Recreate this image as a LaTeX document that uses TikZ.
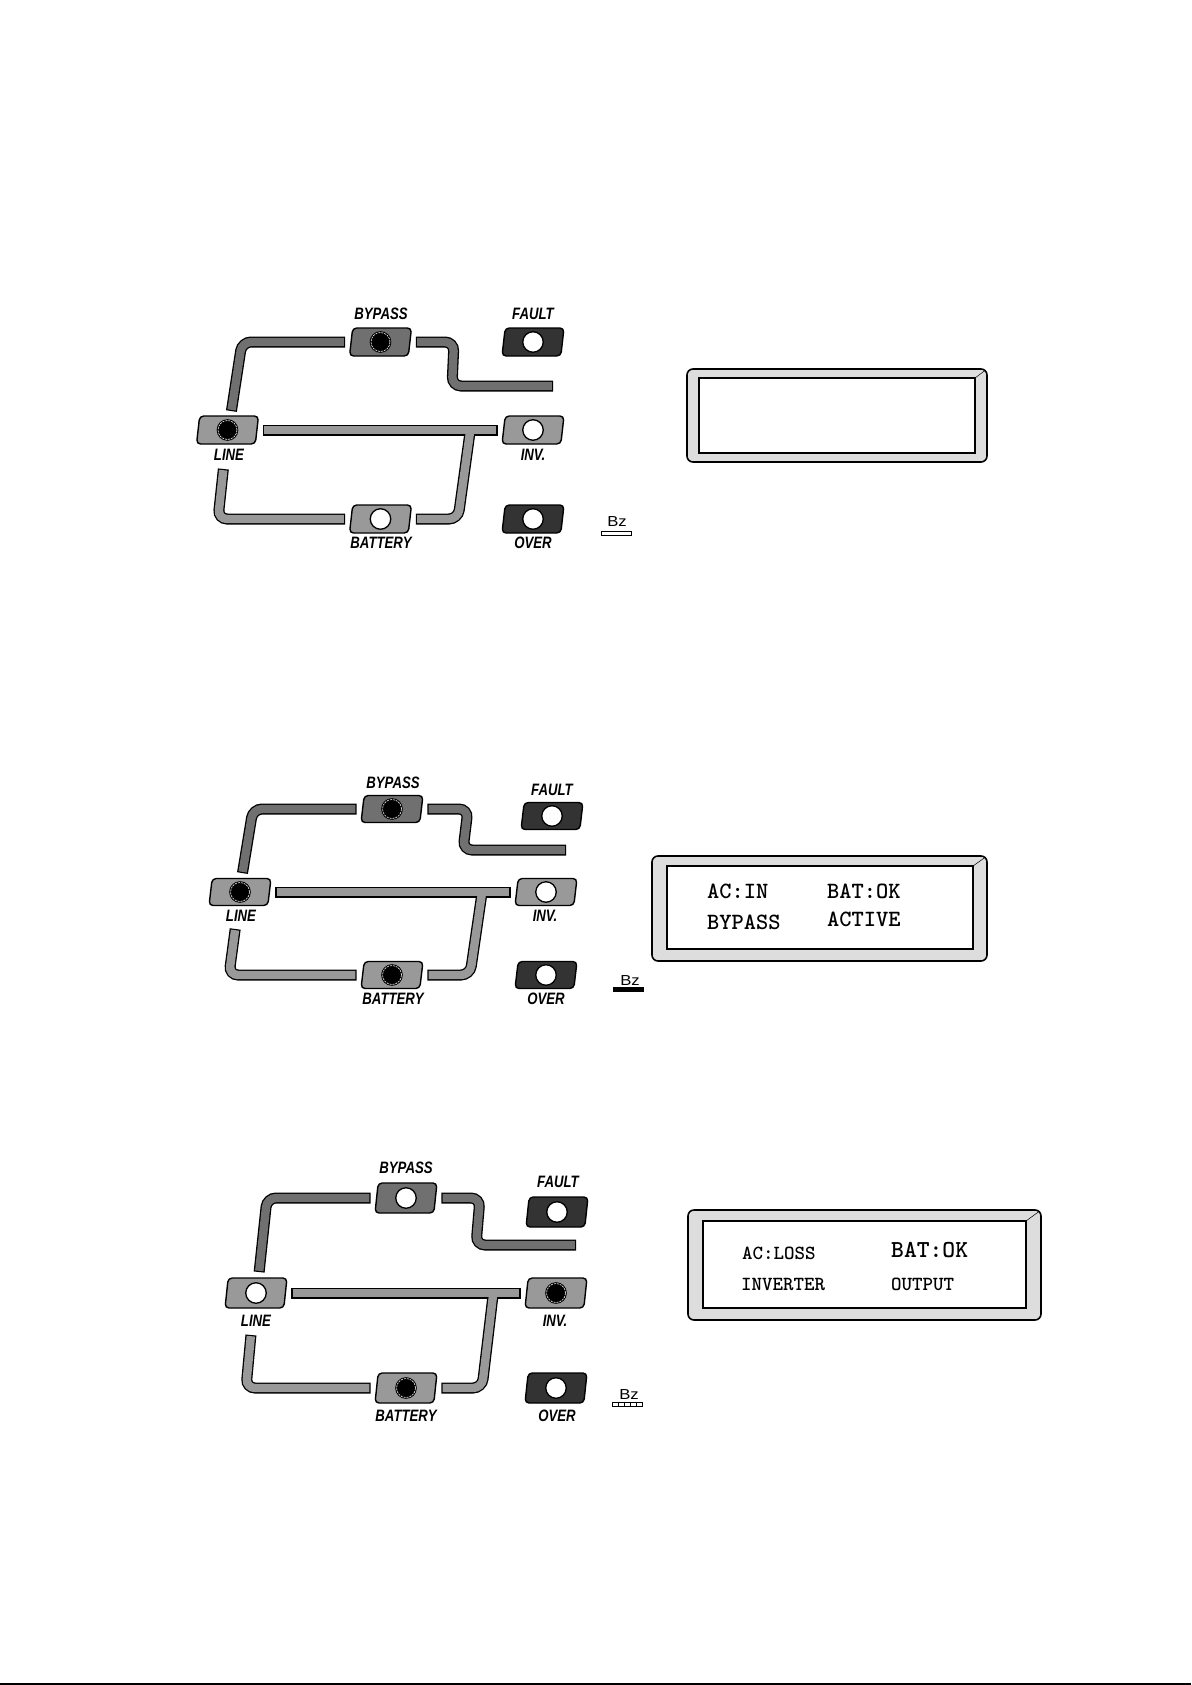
\documentclass[tikz,border=0pt]{standalone}
\usepackage{fontspec}
\usetikzlibrary{shapes.geometric}
\newfontfamily\lampfont[FakeStretch=0.8]{Liberation Sans}
\newfontfamily\buzzfont[FakeStretch=1.15]{Liberation Sans}
\definecolor{lampdark}{HTML}{333333}
\definecolor{lampmid}{HTML}{707070}
\definecolor{lamplight}{HTML}{999999}
\definecolor{lcdframe}{HTML}{DDDDDD}
\tikzset{
  lamp/.style={shape=trapezium,trapezium left angle=86,trapezium right angle=94,trapezium stretches=true,
    draw=black,line width=1.4pt,rounded corners=4pt,inner sep=0pt,outer sep=0pt,minimum width=62pt,minimum height=#1},
  ledoff/.style={shape=circle,draw=black,fill=white,line width=1.3pt,inner sep=0pt,minimum size=20.5pt},
  ledon/.style={shape=circle,fill=black,draw=white,line width=0.6pt,dash pattern=on 2pt off 1pt,inner sep=0pt,minimum size=19pt,
    preaction={draw=black,solid,line width=2.6pt}},
  lamplabel/.style={font=\lampfont\bfseries\itshape\fontsize{16.5}{18}\selectfont,inner sep=0pt},
  pipe/.style={draw=#1,line width=8.4pt,rounded corners=9pt,shorten >=7.2pt,shorten <=7.2pt,
    preaction={draw=black,line width=11pt,shorten >=6pt,shorten <=6pt}},
  pipecore/.style={draw=#1,line width=8.4pt,shorten >=7.2pt,shorten <=7.2pt},
  lcdouter/.style={shape=rectangle,draw=black,fill=lcdframe,line width=1.6pt,rounded corners=6pt,inner sep=0pt,outer sep=0pt},
  lcdinner/.style={shape=rectangle,draw=black,fill=white,line width=1.6pt,inner sep=0pt,outer sep=0pt},
  lcdtext/.style={anchor=west,inner sep=0pt,font=\ttfamily\bfseries\fontsize{#1}{#1}\selectfont},
  buzztext/.style={font=\buzzfont\fontsize{14.5}{15}\selectfont,inner sep=0pt},
  buzzbar/.style={shape=rectangle,draw=black,line width=1pt,inner sep=0pt,minimum width=30pt,minimum height=4pt},
  buzzcell/.style={shape=rectangle,draw=black,fill=white,line width=0.8pt,inner sep=0pt,minimum width=6pt,minimum height=4.5pt}
}
\begin{document}
\begin{tikzpicture}[x=1pt,y=-1pt]
\useasboundingbox (0,0) rectangle (1191,1685);
\foreach \lampname/\px/\py/\lampcol/\state in {bypassA/380.5/342/lampmid/ledon,faultA/533/342/lampdark/ledoff,lineA/227.5/430/lamplight/ledon,invA/533/430/lamplight/ledoff,batteryA/380.5/519/lamplight/ledoff,overA/533/519/lampdark/ledoff} {
\node[lamp=28pt,fill=\lampcol] (\lampname) at (\px,\py) {\phantom{x}};
\node[\state] (\lampname led) at (\lampname) {};
}
\foreach \lampname/\px/\py/\lampcol/\state in {bypassB/392/809/lampmid/ledon,faultB/552/816/lampdark/ledoff,lineB/240/892/lamplight/ledon,invB/546/892/lamplight/ledoff,batteryB/392/975/lamplight/ledon,overB/546/975/lampdark/ledoff} {
\node[lamp=27pt,fill=\lampcol] (\lampname) at (\px,\py) {\phantom{x}};
\node[\state] (\lampname led) at (\lampname) {};
}
\foreach \lampname/\px/\py/\lampcol/\state in {bypassC/406/1198/lampmid/ledoff,faultC/557/1212/lampdark/ledoff,lineC/256/1293/lamplight/ledoff,invC/556/1293/lamplight/ledon,batteryC/406/1388/lamplight/ledon,overC/556/1388/lampdark/ledoff} {
\node[lamp=30pt,fill=\lampcol] (\lampname) at (\px,\py) {\phantom{x}};
\node[\state] (\lampname led) at (\lampname) {};
}
\foreach \labname/\px/\py/\txt in {bypassAt/381/314/BYPASS,faultAt/533/314/FAULT,lineAt/229/455/LINE,invAt/533/455/INV.,batteryAt/381/543/BATTERY,overAt/533/543/OVER,bypassBt/393/783/BYPASS,faultBt/552/790/FAULT,lineBt/241/916/LINE,invBt/545/916/INV.,batteryBt/393/999/BATTERY,overBt/546/999/OVER,bypassCt/406/1168/BYPASS,faultCt/558/1182/FAULT,lineCt/256/1321/LINE,invCt/555/1321/INV.,batteryCt/406/1416/BATTERY,overCt/557/1416/OVER} {
\node[lamplabel] (\labname) at (\px,\py) {\txt};
}
\coordinate (upA) at (230.5,417);
\coordinate (downA) at (224,463);
\coordinate (outA) at (559,386);
\coordinate (teeA) at (471,425);
\draw[pipe=lampmid] (upA) -- (242,342) -- (bypassA.west);
\draw[pipe=lampmid] (bypassA.east) -- (454,342) -- (452,386) -- (outA);
\draw[pipe=lamplight] (downA) -- (218,519) -- (batteryA.west);
\draw[pipe=lamplight] (lineA.east) -- (invA.west);
\draw[pipe=lamplight] (teeA) -- (458,519) -- (batteryA.east);
\draw[pipecore=lamplight] (lineA.east) -- (invA.west);
\coordinate (upB) at (241.5,879);
\coordinate (downB) at (236,923);
\coordinate (outB) at (572,850);
\coordinate (teeB) at (483,886);
\draw[pipe=lampmid] (upB) -- (253,809) -- (bypassB.west);
\draw[pipe=lampmid] (bypassB.east) -- (468,809) -- (463,850) -- (outB);
\draw[pipe=lamplight] (downB) -- (229,975) -- (batteryB.west);
\draw[pipe=lamplight] (lineB.east) -- (invB.west);
\draw[pipe=lamplight] (teeB) -- (470,975) -- (batteryB.east);
\draw[pipecore=lamplight] (lineB.east) -- (invB.west);
\coordinate (upC) at (258.5,1278);
\coordinate (downC) at (251.5,1329);
\coordinate (outC) at (582,1245);
\coordinate (teeC) at (494,1287);
\draw[pipe=lampmid] (upC) -- (267,1198) -- (bypassC.west);
\draw[pipe=lampmid] (bypassC.east) -- (480,1198) -- (476,1245) -- (outC);
\draw[pipe=lamplight] (downC) -- (246,1388) -- (batteryC.west);
\draw[pipe=lamplight] (lineC.east) -- (invC.west);
\draw[pipe=lamplight] (teeC) -- (482,1388) -- (batteryC.east);
\draw[pipecore=lamplight] (lineC.east) -- (invC.west);
\node[buzztext] (buzzAt) at (617,522) {Bz};
\node[buzzbar,fill=white] (buzzA) at (616,533) {};
\node[buzztext] (buzzBt) at (630,981) {Bz};
\node[buzzbar,fill=black] (buzzB) at (628.5,989) {};
\node[buzztext] (buzzCt) at (629,1394) {Bz};
\foreach \i in {0,...,4} {
\node[buzzcell] (buzzC\i) at ({615.5+6*\i},1404.5) {};
}
\node[lcdouter,minimum width=300pt,minimum height=93pt] (lcdAo) at (837,415.5) {};
\node[lcdinner,minimum width=276pt,minimum height=75pt] (lcdAi) at (837,415.5) {};
\draw[line width=0.5pt,shorten >=2pt] (lcdAi.north east) -- (lcdAo.north east);
\node[lcdouter,minimum width=335pt,minimum height=105pt] (lcdBo) at (819.5,908.5) {};
\node[lcdinner,minimum width=306pt,minimum height=83pt] (lcdBi) at (820,907.5) {};
\draw[line width=0.5pt,shorten >=2pt] (lcdBi.north east) -- (lcdBo.north east);
\node[lcdouter,minimum width=353pt,minimum height=110pt] (lcdCo) at (864.5,1265) {};
\node[lcdinner,minimum width=323pt,minimum height=87pt] (lcdCi) at (864.5,1264.5) {};
\draw[line width=0.5pt,shorten >=2pt] (lcdCi.north east) -- (lcdCo.north east);
\node[lcdtext=23.3pt] (acB) at (707,891) {AC:IN};
\node[lcdtext=23.3pt] (batB) at (827,891) {BAT:OK};
\node[lcdtext=23.3pt] (bypB) at (707,922) {BYPASS};
\node[lcdtext=23.3pt] (actB) at (827,919) {ACTIVE};
\node[lcdtext=20pt] (acC) at (742,1253) {AC:LOSS};
\node[lcdtext=24.4pt] (batC) at (891,1250) {BAT:OK};
\node[lcdtext=20pt] (invtC) at (741,1284) {INVERTER};
\node[lcdtext=20pt] (outtC) at (891,1284) {OUTPUT};
\coordinate (edgeL) at (0,1684);
\coordinate (edgeR) at (1191,1684);
\draw[line width=2pt] (edgeL) -- (edgeR);
\end{tikzpicture}
\end{document}
